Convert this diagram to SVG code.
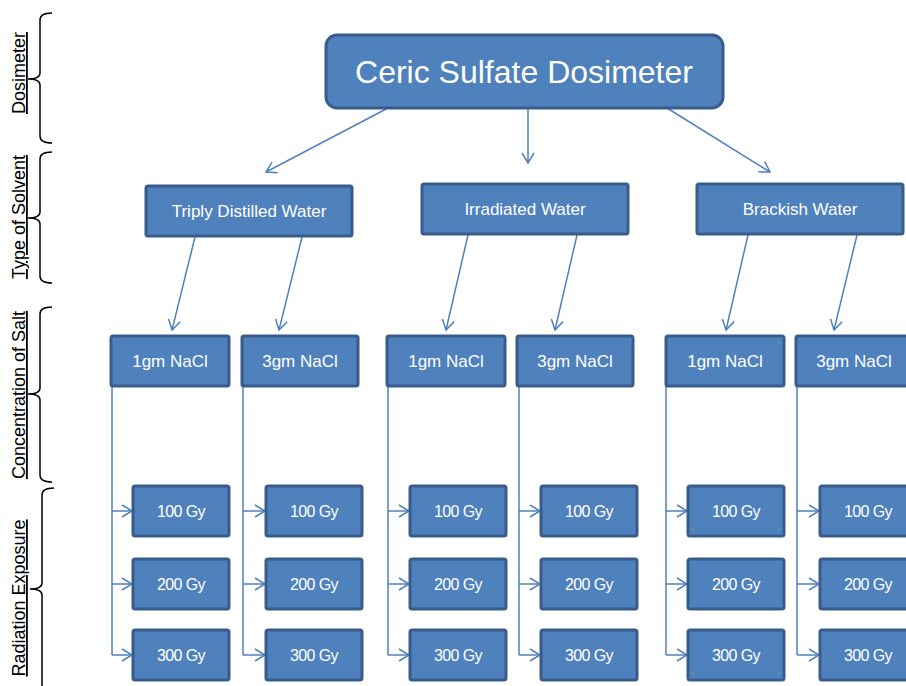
<svg xmlns="http://www.w3.org/2000/svg" width="906" height="686" viewBox="0 0 906 686">
<defs>
<style>
.b{fill:#4F81BD;stroke:#385D8A;stroke-width:3}
.t{fill:#fff;font-family:"Liberation Sans",Arial,sans-serif;font-size:17px;text-anchor:middle}
.g{font-size:16px;letter-spacing:-0.6px}
.m{font-size:32px}
.c{stroke:#4F81BD;stroke-width:1.5;fill:none}
.ca{stroke:#4F81BD;stroke-width:1.5;fill:none;marker-end:url(#a)}
.br{stroke:#000;stroke-width:1.5;fill:none}
.lb{fill:#000;font-family:"Liberation Sans",Arial,sans-serif;font-size:18px;text-anchor:middle;text-decoration:underline}
</style>
<marker id="a" viewBox="0 0 12 14" refX="11" refY="7" markerWidth="12" markerHeight="14" orient="auto" markerUnits="userSpaceOnUse">
<path d="M1,1 L11,7 L1,13" fill="none" stroke="#4F81BD" stroke-width="1.5"/>
</marker>
</defs>
<rect width="906" height="686" fill="#fff"/>

<g id="labels">
<path class="br" d="M52,13 Q40,13 40,20 L40,73 Q40,79 28,79 Q40,79 40,85 L40,136 Q40,143 52,143"/>
<text class="lb" transform="translate(25,73) rotate(-90)">Dosimeter</text>
<path class="br" d="M52,152 Q40,152 40,159 L40,212 Q40,218 28,218 Q40,218 40,224 L40,276 Q40,283 52,283"/>
<text class="lb" transform="translate(25,217) rotate(-90)">Type of Solvent</text>
<path class="br" d="M52,307 Q40,307 40,314 L40,388 Q40,394 28,394 Q40,394 40,400 L40,475 Q40,482 52,482"/>
<text class="lb" transform="translate(25,395) rotate(-90)">Concentration of Salt</text>
<path class="br" d="M54,488 Q42,488 42,495 L42,583 Q42,589 30,589 Q42,589 42,595 L42,690"/>
<text class="lb" transform="translate(25,598) rotate(-90)">Radiation Exposure</text>
</g>

<g id="connectors">
<line class="ca" x1="388" y1="108" x2="266" y2="172"/>
<line class="ca" x1="528" y1="108" x2="528" y2="163"/>
<line class="ca" x1="667" y1="108" x2="770" y2="172"/>

<line class="ca" x1="195" y1="237" x2="172" y2="330"/>
<line class="ca" x1="302" y1="237" x2="279" y2="330"/>
<line class="ca" x1="468" y1="235" x2="446" y2="330"/>
<line class="ca" x1="577" y1="235" x2="555" y2="330"/>
<line class="ca" x1="748" y1="235" x2="726" y2="330"/>
<line class="ca" x1="857" y1="235" x2="834" y2="330"/>

<path class="c" d="M112,386 V655"/>
<line class="ca" x1="112" y1="511" x2="132" y2="511"/>
<line class="ca" x1="112" y1="584" x2="132" y2="584"/>
<line class="ca" x1="112" y1="655" x2="132" y2="655"/>
<path class="c" d="M243,386 V655"/>
<line class="ca" x1="243" y1="511" x2="265" y2="511"/>
<line class="ca" x1="243" y1="584" x2="265" y2="584"/>
<line class="ca" x1="243" y1="655" x2="265" y2="655"/>

<path class="c" d="M388,386 V655"/>
<line class="ca" x1="388" y1="511" x2="409" y2="511"/>
<line class="ca" x1="388" y1="584" x2="409" y2="584"/>
<line class="ca" x1="388" y1="655" x2="409" y2="655"/>
<path class="c" d="M519,386 V655"/>
<line class="ca" x1="519" y1="511" x2="540" y2="511"/>
<line class="ca" x1="519" y1="584" x2="540" y2="584"/>
<line class="ca" x1="519" y1="655" x2="540" y2="655"/>

<path class="c" d="M666,386 V655"/>
<line class="ca" x1="666" y1="511" x2="687" y2="511"/>
<line class="ca" x1="666" y1="584" x2="687" y2="584"/>
<line class="ca" x1="666" y1="655" x2="687" y2="655"/>
<path class="c" d="M797,386 V655"/>
<line class="ca" x1="797" y1="511" x2="819" y2="511"/>
<line class="ca" x1="797" y1="584" x2="819" y2="584"/>
<line class="ca" x1="797" y1="655" x2="819" y2="655"/>
</g>

<g id="root">
<rect class="b" x="326" y="35" width="397" height="73" rx="11"/>
<text class="t m" x="524" y="83">Ceric Sulfate Dosimeter</text>
</g>

<g id="s1"><rect class="b" x="146" y="186" width="206" height="50" rx="2"/><text class="t" x="249" y="217">Triply Distilled Water</text></g>
<g id="s2"><rect class="b" x="422" y="184" width="206" height="50" rx="2"/><text class="t" x="525" y="215">Irradiated Water</text></g>
<g id="s3"><rect class="b" x="697" y="184" width="206" height="50" rx="2"/><text class="t" x="800" y="215">Brackish Water</text></g>

<g id="n1"><rect class="b" x="111" y="336" width="118" height="50" rx="2"/><text class="t" x="170" y="367">1gm NaCl</text></g>
<g id="n2"><rect class="b" x="242" y="336" width="116" height="50" rx="2"/><text class="t" x="300" y="367">3gm NaCl</text></g>
<g id="n3"><rect class="b" x="387" y="336" width="118" height="50" rx="2"/><text class="t" x="446" y="367">1gm NaCl</text></g>
<g id="n4"><rect class="b" x="517" y="336" width="116" height="50" rx="2"/><text class="t" x="575" y="367">3gm NaCl</text></g>
<g id="n5"><rect class="b" x="666" y="336" width="118" height="50" rx="2"/><text class="t" x="725" y="367">1gm NaCl</text></g>
<g id="n6"><rect class="b" x="796" y="336" width="116" height="50" rx="2"/><text class="t" x="854" y="367">3gm NaCl</text></g>

<g id="g1a"><rect class="b" x="133" y="486" width="96" height="50" rx="2"/><text class="t g" x="181" y="517">100 Gy</text></g>
<g id="g1b"><rect class="b" x="133" y="559" width="96" height="50" rx="2"/><text class="t g" x="181" y="590">200 Gy</text></g>
<g id="g1c"><rect class="b" x="133" y="630" width="96" height="50" rx="2"/><text class="t g" x="181" y="661">300 Gy</text></g>
<g id="g2a"><rect class="b" x="266" y="486" width="96" height="50" rx="2"/><text class="t g" x="314" y="517">100 Gy</text></g>
<g id="g2b"><rect class="b" x="266" y="559" width="96" height="50" rx="2"/><text class="t g" x="314" y="590">200 Gy</text></g>
<g id="g2c"><rect class="b" x="266" y="630" width="96" height="50" rx="2"/><text class="t g" x="314" y="661">300 Gy</text></g>
<g id="g3a"><rect class="b" x="410" y="486" width="96" height="50" rx="2"/><text class="t g" x="458" y="517">100 Gy</text></g>
<g id="g3b"><rect class="b" x="410" y="559" width="96" height="50" rx="2"/><text class="t g" x="458" y="590">200 Gy</text></g>
<g id="g3c"><rect class="b" x="410" y="630" width="96" height="50" rx="2"/><text class="t g" x="458" y="661">300 Gy</text></g>
<g id="g4a"><rect class="b" x="541" y="486" width="96" height="50" rx="2"/><text class="t g" x="589" y="517">100 Gy</text></g>
<g id="g4b"><rect class="b" x="541" y="559" width="96" height="50" rx="2"/><text class="t g" x="589" y="590">200 Gy</text></g>
<g id="g4c"><rect class="b" x="541" y="630" width="96" height="50" rx="2"/><text class="t g" x="589" y="661">300 Gy</text></g>
<g id="g5a"><rect class="b" x="688" y="486" width="96" height="50" rx="2"/><text class="t g" x="736" y="517">100 Gy</text></g>
<g id="g5b"><rect class="b" x="688" y="559" width="96" height="50" rx="2"/><text class="t g" x="736" y="590">200 Gy</text></g>
<g id="g5c"><rect class="b" x="688" y="630" width="96" height="50" rx="2"/><text class="t g" x="736" y="661">300 Gy</text></g>
<g id="g6a"><rect class="b" x="820" y="486" width="96" height="50" rx="2"/><text class="t g" x="868" y="517">100 Gy</text></g>
<g id="g6b"><rect class="b" x="820" y="559" width="96" height="50" rx="2"/><text class="t g" x="868" y="590">200 Gy</text></g>
<g id="g6c"><rect class="b" x="820" y="630" width="96" height="50" rx="2"/><text class="t g" x="868" y="661">300 Gy</text></g>
</svg>
